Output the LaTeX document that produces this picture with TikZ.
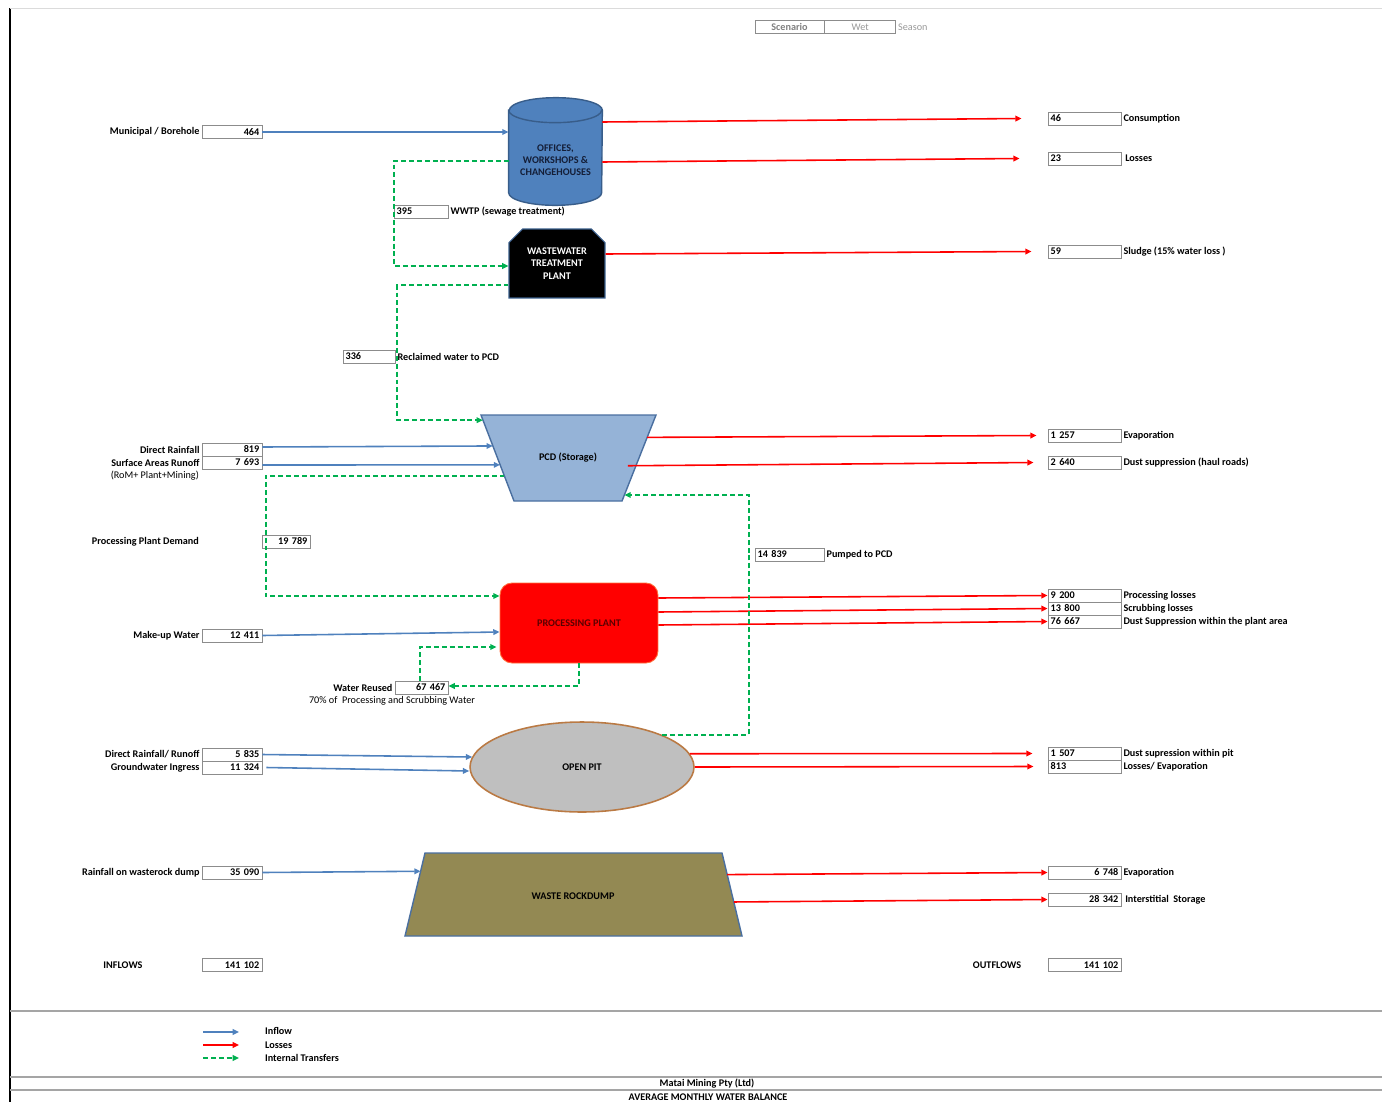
\documentclass[tikz,border=0pt]{standalone}
\usepackage{fontspec}
\setmainfont{Carlito}
\usetikzlibrary{positioning,calc,arrows.meta,shapes.geometric,shapes.misc}
\definecolor{inblue}{RGB}{79,129,189}
\definecolor{lossred}{RGB}{255,0,0}
\definecolor{transgreen}{RGB}{0,176,80}
\definecolor{pcdblue}{RGB}{149,179,215}
\definecolor{edgeblue}{RGB}{74,111,160}
\definecolor{officeedge}{RGB}{56,93,138}
\definecolor{officetext}{RGB}{20,30,55}
\definecolor{dumpolive}{RGB}{147,137,83}
\definecolor{pitgrey}{RGB}{191,191,191}
\definecolor{pitbrown}{RGB}{186,122,68}
\definecolor{plantedge}{RGB}{255,110,60}
\definecolor{planttext}{RGB}{90,0,0}
\definecolor{boxgrey}{RGB}{140,140,140}
\definecolor{rulegrey}{RGB}{165,165,165}

\begin{document}
\begin{tikzpicture}[x=0.02cm,y=-0.02cm,
    >={Triangle[length=3.6pt,width=3.2pt]},
    every node/.style={font=\fontsize{5.8}{7}\selectfont\bfseries, inner sep=1pt},
    valR/.style={draw=boxgrey, line width=0.5pt, text width=#1, align=right, inner xsep=1.5pt, inner ysep=0.8pt, minimum height=7.4pt},
    valL/.style={draw=boxgrey, line width=0.5pt, text width=#1, align=left, inner xsep=1.5pt, inner ysep=0.8pt, minimum height=7.4pt},
    plain/.style={font=\fontsize{5.8}{7}\selectfont},
    tankend/.style={x radius=0.93cm, y radius=0.25cm},
    inflow/.style={->, inblue, line width=0.9pt},
    loss/.style={->, lossred, line width=0.9pt},
    transfer/.style={->, transgreen, line width=1.1pt, dash pattern=on 2.8pt off 1.7pt}]
  \useasboundingbox (0,0) rectangle (1382,1102);
  \draw[line width=1.6pt] (10,8) -- (10,1102);
  \draw[rulegrey!40, line width=0.3pt] (10,8) -- (1382,8);

  % scenario
  \node[draw=boxgrey, minimum width=1.38cm, minimum height=7.4pt, inner sep=0pt, text=gray] (scen) at (789.5,27) {Scenario};
  \node[draw=boxgrey, minimum width=1.42cm, minimum height=7.4pt, inner sep=0pt, text=gray!80, plain, right=0pt of scen] (wet) {Wet};
  \node[text=gray!80, plain, right=0pt of wet] (season) {Season};

  % units
  \node[minimum width=1.86cm, minimum height=2.14cm, inner sep=0pt] (offices) at (555.5,151.5) {};
  \draw[officeedge, line width=0.8pt, fill=inblue]
    ($(offices.north west)+(0,12.5)$) -- ($(offices.south west)+(0,-12.5)$)
    arc[start angle=180, end angle=360, tankend] -- ($(offices.north east)+(0,12.5)$)
    arc[start angle=0, end angle=180, tankend] -- cycle;
  \draw[officeedge, line width=0.8pt] ($(offices.north west)+(0,12.5)$) arc[start angle=180, end angle=360, tankend];
  \node[align=center, text=officetext] (officesTxt) at (555.5,160) {OFFICES,\\WORKSHOPS \&\\CHANGEHOUSES};
  \node[chamfered rectangle, chamfered rectangle corners={north west,north east}, chamfered rectangle xsep=0.16cm,
        draw=officeedge, line width=0.6pt, fill=black, text=white, align=center,
        minimum width=1.92cm, minimum height=1.38cm] (wwtp) at (557,263.5) {WASTEWATER\\TREATMENT\\PLANT};

  \coordinate (pcdTL) at (481,415);
  \coordinate (pcdTR) at (656,415);
  \coordinate (pcdBR) at (622,501);
  \coordinate (pcdBL) at (514,501);
  \draw[edgeblue, line width=0.8pt, fill=pcdblue] (pcdTL) -- (pcdTR) -- (pcdBR) -- (pcdBL) -- cycle;
  \node (pcd) at (568,458) {PCD (Storage)};

  \node[rounded corners=0.24cm, draw=plantedge, line width=0.5pt, fill=lossred, text=planttext,
        minimum width=3.16cm, minimum height=1.6cm] (plant) at (579,623) {PROCESSING PLANT};
  \node[ellipse, draw=pitbrown, line width=0.9pt, fill=pitgrey, minimum width=4.48cm, minimum height=1.8cm] (pit) at (582,767) {OPEN PIT};

  \coordinate (dumpTL) at (425,853);
  \coordinate (dumpTR) at (722,853);
  \coordinate (dumpBR) at (742,936);
  \coordinate (dumpBL) at (405,936);
  \draw[edgeblue, line width=0.8pt, fill=dumpolive] (dumpTL) -- (dumpTR) -- (dumpBR) -- (dumpBL) -- cycle;
  \node (dump) at (573,896) {WASTE ROCKDUMP};

  % inflows
  \node[valR=31.1pt] (bMun) at (232,132) {464};
  \node[left=0pt of bMun] (tMun) {Municipal / Borehole};
  \node[valR=31.1pt] (bRain) at (232,449.5) {819};
  \node[left=0pt of bRain] (tRain) {Direct Rainfall};
  \node[valR=31.1pt] (bRunoff) at (232,462.5) {7 693};
  \node[left=0pt of bRunoff] (tRunoff) {Surface Areas Runoff};
  \node[plain, anchor=east] (tRom) at (201,476) {(RoM+ Plant+Mining)};
  \node[valR=31.1pt] (bMakeup) at (232,635.5) {12 411};
  \node[left=0pt of bMakeup] (tMakeup) {Make-up Water};
  \node[valR=31.1pt] (bPitRain) at (232,754.5) {5 835};
  \node[left=0pt of bPitRain] (tPitRain) {Direct Rainfall/ Runoff};
  \node[valR=31.1pt] (bGround) at (232,767.5) {11 324};
  \node[left=0pt of bGround] (tGround) {Groundwater Ingress};
  \node[valR=31.1pt] (bDumpRain) at (232,872.5) {35 090};
  \node[left=0pt of bDumpRain] (tDumpRain) {Rainfall on wasterock dump};
  \node[valR=31.1pt] (bIn) at (232,965) {141 102};
  \node (tIn) at (123,965) {INFLOWS};

  \draw[inflow] (bMun.east) -- (bMun.east -| offices.west);
  \draw[inflow] ([yshift=0.05cm]bRain.east) -- ($(pcdTL)!0.36!(pcdBL)$);
  \draw[inflow] ([yshift=-0.05cm]bRunoff.east) -- ($(pcdTL)!0.58!(pcdBL)$);
  \draw[inflow] (bMakeup.east) -- ($(plant.west)+(0,9)$);
  \draw[inflow] (bPitRain.east) -- ($(pit.west)+(3,-10)$);
  \draw[inflow] ($(bGround.east)+(4,0)$) -- ($(pit.west)+(0,4)$);
  \draw[inflow] (bDumpRain.east) -- ($(dumpTL)!0.22!(dumpBL)$);

  % outflows
  \node[valL=38.5pt] (bCons) at (1084.5,118.5) {46};
  \node[right=0pt of bCons] (tCons) {Consumption};
  \node[valL=38.5pt] (bOffLoss) at (1084.5,158.5) {23};
  \node[right=1pt of bOffLoss] (tOffLoss) {Losses};
  \node[valL=38.5pt] (bSludge) at (1084.5,251.5) {59};
  \node[right=0pt of bSludge] (tSludge) {Sludge (15\% water loss )};
  \node[valL=38.5pt] (bPcdEvap) at (1084.5,435.5) {1 257};
  \node[right=0pt of bPcdEvap] (tPcdEvap) {Evaporation};
  \node[valL=38.5pt] (bHaul) at (1084.5,462.5) {2 640};
  \node[right=0pt of bHaul] (tHaul) {Dust suppression (haul roads)};
  \node[valL=38.5pt] (bProc) at (1084.5,595.5) {9 200};
  \node[right=0pt of bProc] (tProc) {Processing losses};
  \node[valL=38.5pt] (bScrub) at (1084.5,608.5) {13 800};
  \node[right=0pt of bScrub] (tScrub) {Scrubbing losses};
  \node[valL=38.5pt] (bPlantDust) at (1084.5,621.5) {76 667};
  \node[right=0pt of bPlantDust] (tPlantDust) {Dust Suppression within the plant area};
  \node[valL=38.5pt] (bPitDust) at (1084.5,753.5) {1 507};
  \node[right=0pt of bPitDust] (tPitDust) {Dust supression within pit};
  \node[valL=38.5pt] (bPitEvap) at (1084.5,766.5) {813};
  \node[right=0pt of bPitEvap] (tPitEvap) {Losses/ Evaporation};
  \node[valR=38.5pt] (bDumpEvap) at (1084.5,872.5) {6 748};
  \node[right=0pt of bDumpEvap] (tDumpEvap) {Evaporation};
  \node[valR=38.5pt] (bStore) at (1084.5,899.5) {28 342};
  \node[right=1pt of bStore] (tStore) {Interstitial\ \ Storage};
  \node[valR=38.5pt] (bOut) at (1084.5,965) {141 102};
  \node (tOut) at (997,965) {OUTFLOWS};

  \draw[loss] ($(offices.east)+(0,-29.5)$) -- ([xshift=-0.52cm]bCons.west);
  \draw[loss] ($(offices.east)+(0,10.5)$) -- ([xshift=-0.56cm]bOffLoss.west);
  \draw[loss] ($(wwtp.east)+(0,-9.5)$) -- ([xshift=-0.32cm]bSludge.west);
  \draw[loss] ($(pcdTR)!0.26!(pcdBR)$) -- ([xshift=-0.22cm]bPcdEvap.west);
  \draw[loss] ($(pcdTR)!0.59!(pcdBR)+(-8,0)$) -- ([xshift=-0.28cm]bHaul.west);
  \draw[loss] ($(plant.east)+(0,-25)$) -- (bProc.west);
  \draw[loss] ($(plant.east)+(0,-11)$) -- (bScrub.west);
  \draw[loss] ($(plant.east)+(0,2)$) -- (bPlantDust.west);
  \draw[loss] (pit.7) -- ([xshift=-0.3cm]bPitDust.west);
  \draw[loss] (pit.0) -- ([xshift=-0.28cm]bPitEvap.west);
  \draw[loss] ($(dumpTR)!0.26!(dumpBR)$) -- (bDumpEvap.west);
  \draw[loss] ($(dumpTR)!0.59!(dumpBR)$) -- (bStore.west);

  % internal transfers
  \node[valL=27.7pt] (bSewage) at (421,211.5) {395};
  \node[right=0pt of bSewage] (tSewage) {WWTP (sewage treatment)};
  \node[valL=26.6pt] (bReclaim) at (369,356.5) {336};
  \node[right=0pt of bReclaim] (tReclaim) {Reclaimed water to PCD};
  \node[valR=24.3pt] (bDemand) at (286,541.5) {19 789};
  \node[anchor=east] (tDemand) at (201,541.5) {Processing Plant Demand};
  \node[valL=36.3pt] (bPumped) at (789.5,554.5) {14 839};
  \node[right=0pt of bPumped] (tPumped) {Pumped to PCD};
  \node[valR=27.2pt] (bReuse) at (421.5,687.5) {67 467};
  \node[left=0pt of bReuse] (tReuse) {Water Reused};
  \node[plain] (tReuseNote) at (392,701) {70\% of\ \ Processing and Scrubbing Water};

  \draw[transfer] ($(offices.west)+(0,9.5)$) -| (bSewage.west) |- ($(wwtp.west)+(0,2.5)$);
  \draw[transfer] ($(wwtp.west)+(0,21.5)$) -| ($(bReclaim.east)+(2,0)$) |- ($(pcdTL)!0.06!(pcdBL)$);
  \draw[transfer] ($(pcdTL)!0.71!(pcdBL)$) -| ($(bDemand.west)+(4,0)$) |- ($(plant.west)+(0,-27)$);
  \draw[transfer] (pit.22) -| ($(bPumped.west)+(-6,0)$) |- ($(pcdTR)!0.93!(pcdBR)$);
  \draw[transfer] (plant.south) |- ([yshift=0.03cm]bReuse.east);
  \draw[transfer] ($(bReuse.north)+(-1.5,0)$) |- ($(plant.west)+(-3,24)$);

  % legend and title block
  \draw[rulegrey, line width=0.6pt] (10,1011) -- (1382,1011);
  \node[anchor=west] (tLegIn) at (263,1031) {Inflow};
  \node[anchor=west] (tLegLoss) at (263,1045) {Losses};
  \node[anchor=west] (tLegTrans) at (263,1058) {Internal Transfers};
  \coordinate (legIn) at (203,1032);
  \coordinate (legLoss) at (203,1045);
  \coordinate (legTrans) at (203,1058);
  \draw[inflow] (legIn) -- ([xshift=-0.48cm]legIn -| tLegIn.west);
  \draw[loss] (legLoss) -- ([xshift=-0.48cm]legLoss -| tLegLoss.west);
  \draw[transfer] (legTrans) -- ([xshift=-0.48cm]legTrans -| tLegTrans.west);
  \draw[rulegrey, line width=0.6pt] (10,1077) -- (1382,1077);
  \draw[rulegrey, line width=0.6pt] (10,1090) -- (1382,1090);
  \node (tCompany) at (707,1084) {Matai Mining Pty (Ltd)};
  \node (tTitle) at (708,1097) {AVERAGE MONTHLY WATER BALANCE};
\end{tikzpicture}
\end{document}
